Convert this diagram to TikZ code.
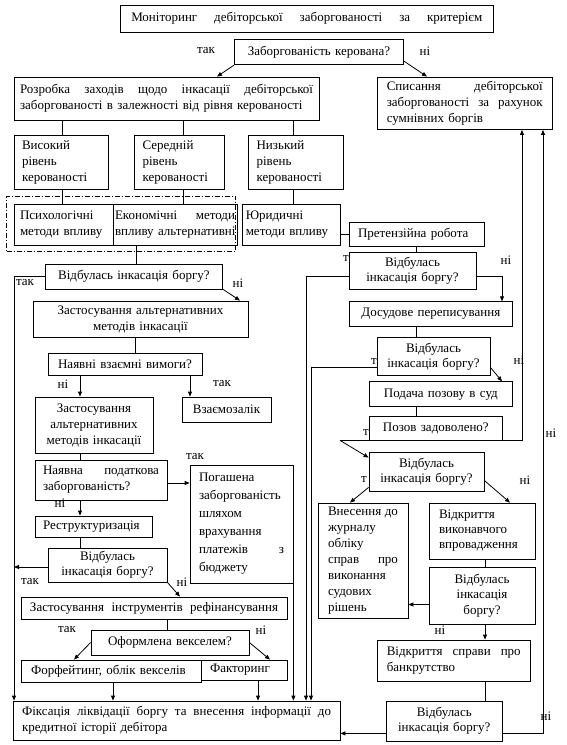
\documentclass[tikz,border=0pt]{standalone}
\usepackage{fontspec}
\setmainfont{Liberation Serif}
\usetikzlibrary{arrows.meta,calc}
\newcommand\mybox[7]{%
  \pgfmathsetmacro\Bw{#4-#2}\pgfmathsetmacro\Bh{#5-#3}%
  \pgfmathsetmacro\Bx{(#2+#4)/2}\pgfmathsetmacro\By{-(#3+#5)/2}%
  \pgfmathsetmacro\Tw{#4-#2-16}%
  \node[box,minimum width=\Bw pt,minimum height=\Bh pt,text width=\Tw pt,#6] (#1) at (\Bx pt,\By pt) {#7};}
\tikzset{
  box/.style={draw,fill=white,line width=0.8pt,inner xsep=8pt,inner ysep=1pt,align=left,
    font=\fontsize{13}{16}\selectfont},
  lbl/.style={inner sep=0pt,font=\fontsize{13}{15}\selectfont},
  conn/.style={line width=0.8pt},
  arr/.style={line width=0.8pt,-{Triangle[length=5pt,width=4pt]}},
}
\begin{document}
\begin{tikzpicture}[x=1pt,y=1pt]
\useasboundingbox (0,0) rectangle (567,-745);
\foreach \v in {14,62,74,80,113,135,136,167,180,183,190,217,240,258,270,293,306,311,340,350,416,427,485,502,510,522,543}
  {\coordinate (x\v) at (\v,0);}
% ---- boxes ----
\mybox{top}{120.5}{5}{493}{32}{text width=351pt,inner xsep=4pt}{Моніторинг\hfill дебіторської\hfill заборгованості\hfill за\hfill критерієм}
\mybox{q}{234.5}{39.5}{403.5}{64.7}{align=center,text width=160pt,inner xsep=2pt}{Заборгованість керована?}
\mybox{rozr}{14}{77}{319}{120}{text width=293pt,inner xsep=6pt}{Розробка\hfill заходів\hfill щодо\hfill інкасації\hfill дебіторської\\\mbox{заборгованості в залежності від рівня керованості}}
\mybox{spys}{377.5}{77}{552}{129.5}{inner xsep=9pt,text width=156pt}{Списання\hfill дебіторської\\заборгованості\hfill за\hfill рахунок\\сумнівних боргів}
\mybox{vys}{14}{135}{108}{189}{}{Високий\\рівень\\керованості}
\mybox{ser}{134.6}{135}{224.4}{189}{}{Середній\\рівень\\керованості}
\mybox{niz}{248.6}{135}{343.8}{189}{}{Низький\\рівень\\керованості}
\mybox{psy}{14}{204}{113}{245}{inner xsep=6pt,text width=87pt}{Психологічні\\\mbox{методи впливу}}
\mybox{eco}{113}{204}{237}{245}{inner xsep=2pt,text width=120pt}{Економічні\hfill методи\\\mbox{впливу альтернативні}}
\mybox{jur}{242.5}{204}{340}{245}{inner xsep=3pt,text width=91pt}{Юридичні\\\mbox{методи впливу}}
\mybox{bi1}{45}{264}{222.7}{289}{align=center}{Відбулась інкасація боргу?}
\mybox{za1}{33}{301}{248}{337}{align=center}{Застосування альтернативних\\методів інкасації}
\mybox{vv}{48}{353}{202}{375}{align=center}{Наявні взаємні вимоги?}
\mybox{za2}{35}{397}{153}{453}{align=center,inner xsep=2pt,text width=114pt}{Застосування\\альтернативних\\методів інкасації}
\mybox{vz}{182}{397}{271}{422}{align=center,inner xsep=2pt,text width=85pt}{Взаємозалік}
\mybox{nap}{35}{460}{167}{500}{}{Наявна\hfill податкова\\заборгованість?}
\mybox{pog}{190}{465}{293}{583}{inner xsep=9pt,text width=85pt,font=\fontsize{13}{18}\selectfont}{Погашена\\\mbox{заборгованість}\\шляхом\\врахування\\платежів\hfill з\\бюджету}
\mybox{restr}{35}{516}{152}{537}{}{Реструктуризація}
\mybox{bi2}{48}{548}{167}{582}{align=center,font=\fontsize{13}{15}\selectfont}{Відбулась\\інкасація боргу?}
\mybox{refin}{21}{597}{287}{619}{inner xsep=9pt,text width=248pt}{Застосування\hfill інструментів\hfill рефінансування}
\mybox{oform}{91}{630}{249}{655}{align=center}{Оформлена векселем?}
\mybox{forf}{21}{660}{201}{682}{inner xsep=10pt,text width=160pt}{Форфейтинг, облік векселів}
\mybox{fact}{201}{660}{287}{680}{inner xsep=9pt,text width=68pt}{Факторинг}
\mybox{final}{13}{701}{340}{740}{inner xsep=9pt,text width=309pt}{Фіксація\hfill ліквідації\hfill боргу\hfill та\hfill внесення\hfill інформації\hfill до\\кредитної історії дебітора}
\mybox{pret}{349}{222.7}{484}{246}{inner xsep=9pt,text width=117pt}{Претензійна робота}
\mybox{bip}{349}{252}{476}{289}{align=center,font=\fontsize{13}{15}\selectfont}{Відбулась\\інкасація боргу?}
\mybox{dos}{349}{301.7}{512.7}{326}{align=center}{Досудове переписування}
\mybox{bid}{377}{337.7}{490}{375}{align=center,font=\fontsize{13}{15}\selectfont}{Відбулась\\інкасація боргу?}
\mybox{pod}{369}{381.7}{512.7}{406.7}{align=center}{Подача позову в суд}
\mybox{poz}{369}{416.7}{502.7}{440}{align=center}{Позов задоволено?}
\mybox{bis}{369}{452}{484}{491}{align=center,font=\fontsize{13}{15}\selectfont}{Відбулась\\інкасація боргу?}
\mybox{vnes}{318}{503}{408}{618}{inner xsep=10pt,text width=70pt}{Внесення\hfill до\\журналу\\обліку\\справ\hfill про\\виконання\\судових\\рішень}
\mybox{vidk}{429}{503}{535}{559}{inner xsep=10pt,text width=86pt,font=\fontsize{13}{15}\selectfont}{Відкриття\\виконавчого\\впровадження}
\mybox{biv}{429}{567}{535}{624}{align=center,font=\fontsize{13}{15.5}\selectfont}{Відбулась\\інкасація\\боргу?}
\mybox{bank}{377.5}{640}{530}{681}{inner xsep=9pt,text width=134pt}{Відкриття\hfill справи\hfill про\\банкрутство}
\mybox{bil}{386.5}{701}{502}{741}{align=center,font=\fontsize{13}{15}\selectfont}{Відбулась\\інкасація боргу?}
\node[draw,line width=0.8pt,dash pattern=on 5pt off 2pt on 1pt off 2pt,minimum width=229pt,minimum height=55pt,inner sep=0pt] (grp) at (121,-223.5) {};
% ---- helper points ----
\coordinate (p1) at ($(nap.east)+(0,-3)$);
\coordinate (p2) at ($(bi2.west)+(0,-2)$);
\coordinate (p3) at ($(biv.west)+(0,-9)$);
\coordinate (p4) at ($(bil.south west)+(0,8)$);
\coordinate (p5) at ($(bil.south east)+(0,8)$);
\coordinate (c340) at (poz.south west -| x340);
% ---- connectors ----
\draw[arr] (q.south west) -- (rozr.north -| x217);
\draw[arr] ($(q.south east)+(0,4)$) -- (spys.north -| x427);
\draw[conn] (rozr.south -| x62) -- (vys.north -| x62);
\draw[conn] (rozr.south -| x183) -- (ser.north -| x183);
\draw[conn] (rozr.south -| x293) -- (niz.north -| x293);
\draw[conn] (vys.south -| x62) -- (psy.north -| x62);
\draw[conn] (ser.south -| x183) -- (eco.north -| x183);
\draw[conn] (niz.south -| x293) -- (jur.north -| x293);
\draw[conn] (eco.south -| x136) -- (bi1.north -| x136);
\draw[arr] (bi1.west) -| (final.north -| x14);
\draw[arr] (bi1.south east) -- (za1.north -| x240);
\draw[conn] (za1.south -| x135) -- (vv.north -| x135);
\draw[arr] (vv.south -| x80) -- (za2.north -| x80);
\draw[arr] (vv.south -| x190) -- (vz.north -| x190);
\draw[conn] (za2.south -| x80) -- (nap.north -| x80);
\draw[arr] (p1) -- (p1 -| pog.west);
\draw[arr] (nap.south -| x80) -- (restr.north -| x80);
\draw[conn] (restr.south -| x80) -- (bi2.north -| x80);
\draw[arr] (p2) -- (p2 -| x14);
\draw[arr] (bi2.south east) -- (refin.north -| x180);
\draw[conn] (refin.south -| x167) -- (oform.north -| x167);
\draw[arr] (oform.west) -- (forf.north -| x74);
\draw[arr] (oform.east) -- (fact.north -| x270);
\draw[arr] (forf.south -| x113) -- (final.north -| x113);
\draw[arr] (fact.south -| x258) -- (final.north -| x258);
\draw[arr] (pog.south east) -- (final.north -| pog.south east);
\draw[conn] (jur.east |- pret.west) -- (pret.west);
\draw[conn] (pret.south) -- (bip.north -| pret.south);
\draw[arr] ($(bip.west)+(0,-6)$) -| (final.north -| x306);
\draw[arr] ($(bip.east)+(0,-6)$) -| (dos.north -| x502);
\draw[conn] (dos.south -| x416) -- (bid.north -| x416);
\draw[arr] ($(bid.south west)+(0,8)$) -| (final.north -| x311);
\draw[arr] ($(bid.south east)+(0,8)$) -- (pod.north -| x502);
\draw[conn] (pod.south -| x416) -- (poz.north -| x416);
\draw[arr] (c340) -- (c340 -| x522) -- (spys.south -| x522);
\draw[arr] (c340) -- ($(bis.north west)+(0,-6)$);
\draw[arr] ($(bis.south west)+(0,4)$) -- (vnes.north -| x350);
\draw[arr] ($(bis.east)+(0,-9)$) -- (vidk.north -| x510);
\draw[conn] (vidk.south -| x485) -- (biv.north -| x485);
\draw[arr] (p3) -- (p3 -| vnes.east);
\draw[arr] (biv.south -| x485) -- (bank.north -| x485);
\draw[conn] (bank.south -| x485) -- (bil.north -| x485);
\draw[arr] (p4) -- (p4 -| final.east);
\draw[arr] (p5) -| (spys.south -| x543);
% ---- labels ----
\node[lbl] (l1) at (206,-51) {так};
\node[lbl] (l2) at (425,-51) {ні};
\node[lbl] (l3) at (25,-283) {так};
\node[lbl] (l4) at (238,-283) {ні};
\node[lbl] (l5) at (63,-384) {ні};
\node[lbl] (l6) at (222,-384) {так};
\node[lbl] (l7) at (195,-457) {так};
\node[lbl] (l8) at (60,-503) {ні};
\node[lbl] (l9) at (30,-582) {так};
\node[lbl] (l10) at (182,-582) {ні};
\node[lbl] (l11) at (67,-630) {так};
\node[lbl] (l12) at (261,-630) {ні};
\node[lbl,anchor=east] (l13) at (349,-259) {т};
\node[lbl,anchor=east] (l14) at (377,-362) {т};
\node[lbl,anchor=east] (l15) at (369,-433) {т};
\node[lbl,anchor=east] (l16) at (367,-480) {т};
\node[lbl] (l17) at (506,-260) {ні};
\node[lbl] (l18) at (519,-360) {ні};
\node[lbl] (l19) at (551,-433) {ні};
\node[lbl] (l20) at (525,-480) {ні};
\node[lbl] (l21) at (440,-630) {ні};
\node[lbl] (l22) at (546,-716) {ні};
\end{tikzpicture}
\end{document}
